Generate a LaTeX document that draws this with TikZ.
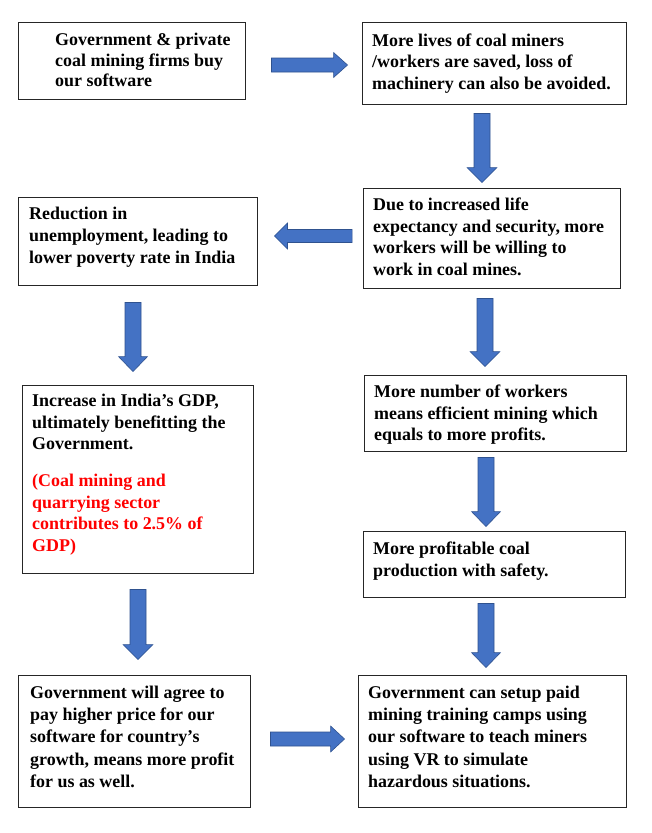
\documentclass[tikz,border=0pt]{standalone}
\usepackage{fontspec}
\setmainfont{Liberation Serif}
\usetikzlibrary{calc}
\definecolor{arrowblue}{HTML}{4472C4}
\definecolor{arrowedge}{HTML}{2F528F}
\definecolor{notered}{HTML}{FF0000}
\newcommand{\blockarrow}[5]{%
  \coordinate (bah) at ($(#2)!#5!(#1)$);
  \filldraw[blockarr] ($(#1)!#3!90:(#2)$) -- ($(bah)!#3!-90:(#1)$) -- ($(bah)!#4!-90:(#1)$) -- (#2) -- ($(bah)!#4!90:(#1)$) -- ($(bah)!#3!90:(#1)$) -- ($(#1)!#3!-90:(#2)$) -- cycle;
}
\begin{document}
\begin{tikzpicture}[x=1bp,y=-1bp,
  box/.style={draw=black!85, line width=0.9bp, inner sep=0pt},
  txt/.style={anchor=north west, inner sep=0pt, align=left, font=\fontsize{18}{22}\selectfont\bfseries},
  blockarr/.style={fill=arrowblue, draw=arrowedge, line width=0.6bp, line join=miter}]
\useasboundingbox[fill=white] (0,0) rectangle (652,833);

% boxes
\node[box, minimum width=227bp, minimum height=77bp]  (A) at (131.5,60.5) {};
\node[box, minimum width=264bp, minimum height=82bp]  (B) at (494,63) {};
\node[box, minimum width=257bp, minimum height=100bp] (C) at (491.5,238) {};
\node[box, minimum width=239bp, minimum height=88bp]  (D) at (137.5,241) {};
\node[box, minimum width=262bp, minimum height=76bp]  (E) at (495,413) {};
\node[box, minimum width=231bp, minimum height=188bp] (F) at (137.5,479) {};
\node[box, minimum width=262bp, minimum height=66bp]  (G) at (494,564) {};
\node[box, minimum width=232bp, minimum height=132bp] (H) at (134,741) {};
\node[box, minimum width=268bp, minimum height=132bp] (I) at (492,741) {};

% texts
\node[txt, font=\fontsize{18}{20.5}\selectfont\bfseries] (At) at (55,31.5) {\strut Government \& private\\coal mining firms buy\\our software};
\node[txt, font=\fontsize{18}{21.5}\selectfont\bfseries] (Bt) at (372,31.3) {\strut More lives of coal miners\\/workers are saved, loss of\\machinery can also be avoided.};
\node[txt] (Ct) at (373,194.6) {\strut Due to increased life\\expectancy and security, more\\workers will be willing to\\work in coal mines.};
\node[txt] (Dt) at (29,203.8) {\strut Reduction in\\unemployment, leading to\\lower poverty rate in India};
\node[txt] (Et) at (374,381.6) {\strut More number of workers\\means efficient mining which\\equals to more profits.};
\node[txt] (Ft) at (32,390.6) {\strut Increase in India’s GDP,\\ultimately benefitting the\\Government.};
\node[txt, text=notered] (Fr) at (32,470.6) {\strut (Coal mining and\\quarrying sector\\contributes to 2.5\% of\\GDP)};
\node[txt] (Gt) at (373,538.6) {\strut More profitable coal\\production with safety.};
\node[txt, font=\fontsize{18}{22.3}\selectfont\bfseries] (Ht) at (30,682.6) {\strut Government will agree to\\pay higher price for our\\software for country’s\\growth, means more profit\\for us as well.};
\node[txt, font=\fontsize{18}{22.3}\selectfont\bfseries] (It) at (368,682.6) {\strut Government can setup paid\\mining training camps using\\our software to teach miners\\using VR to simulate\\hazardous situations.};

% connector end points
\coordinate (a1s) at ($(A.east)+(26,4.5)$);  \coordinate (a1e) at ($(B.west)+(-14,2)$);
\coordinate (a2s) at ($(B.south)+(-12,9)$);  \coordinate (a2e) at ($(C.north)+(-9.5,-5)$);
\coordinate (a3s) at ($(C.west)+(-10.5,-2)$); \coordinate (a3e) at ($(D.east)+(17,-5)$);
\coordinate (a4s) at ($(C.south)+(-6.5,10)$); \coordinate (a4e) at ($(E.north)+(-10,-8)$);
\coordinate (a5s) at ($(D.south)+(-4.5,17)$); \coordinate (a5e) at ($(F.north)+(-4.5,-13)$);
\coordinate (a6s) at ($(E.south)+(-9,6)$);   \coordinate (a6e) at ($(G.north)+(-8,-4)$);
\coordinate (a7s) at ($(F.south)+(0.5,16)$); \coordinate (a7e) at ($(H.north)+(4,-15)$);
\coordinate (a8s) at ($(G.south)+(-8,6)$);   \coordinate (a8e) at ($(I.north)+(-6,-7)$);
\coordinate (a9s) at ($(H.east)+(20,-2)$);   \coordinate (a9e) at ($(I.west)+(-13,-2)$);

\blockarrow{a1s}{a1e}{7bp}{12.5bp}{14bp}
\blockarrow{a2s}{a2e}{8bp}{15bp}{15bp}
\blockarrow{a3s}{a3e}{6.5bp}{13bp}{13bp}
\blockarrow{a4s}{a4e}{8bp}{15bp}{15bp}
\blockarrow{a5s}{a5e}{8bp}{14.5bp}{15bp}
\blockarrow{a6s}{a6e}{8bp}{14.5bp}{15bp}
\blockarrow{a7s}{a7e}{8bp}{15bp}{15bp}
\blockarrow{a8s}{a8e}{8bp}{14.5bp}{15bp}
\blockarrow{a9s}{a9e}{7bp}{13bp}{14bp}
\end{tikzpicture}
\end{document}
